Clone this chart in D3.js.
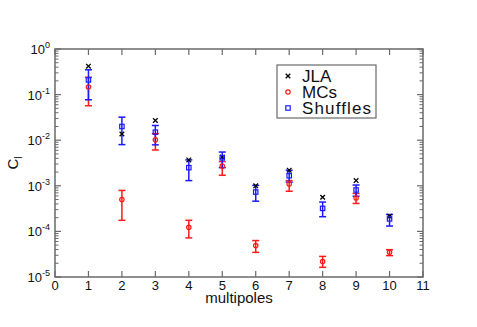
<!DOCTYPE html>
<html lang="en">
<head>
<meta charset="utf-8">
<title>C_l vs multipoles</title>
<script src="https://cdn.jsdelivr.net/npm/d3@7"></script>
<style>
  body { margin: 0; background: white; }
  svg { background-color: white; font-family: "Liberation Sans", Arial, sans-serif; }
</style>
</head>
<body>
<div id="chart"></div>
<script>
// multipole index
var multipoles = [1, 2, 3, 4, 5, 6, 7, 8, 9, 10];

// JLA
var jla = [0.42, 0.0137, 0.027, 0.0037, 0.0043, 0.0010, 0.0022, 0.00056, 0.0013, 0.000214];

// MCs: value, lower, upper
var mcs    = [0.147, 0.0005, 0.0102, 0.000123, 0.0027, 0.000049, 0.0011, 0.0000219, 0.00054, 0.0000347];
var mcsLo  = [0.057, 0.000175, 0.0061, 0.000072, 0.0017, 0.0000347, 0.00076, 0.0000163, 0.00041, 0.0000294];
var mcsHi  = [0.24, 0.00079, 0.0139, 0.000175, 0.0034, 0.000063, 0.0013, 0.0000283, 0.00068, 0.0000397];

// Shuffles: value, lower, upper
var shuf   = [0.21, 0.020, 0.015, 0.0025, 0.0041, 0.00073, 0.00166, 0.00032, 0.00081, 0.000188];
var shufLo = [0.077, 0.0080, 0.0079, 0.0013, 0.0025, 0.00046, 0.0012, 0.00021, 0.00059, 0.000131];
var shufHi = [0.35, 0.032, 0.021, 0.0037, 0.0055, 0.00102, 0.0022, 0.00044, 0.00104, 0.000235];

var xTicks = [0, 1, 2, 3, 4, 5, 6, 7, 8, 9, 10, 11];
var yExps = [0, -1, -2, -3, -4, -5];

var W = 477, H = 327;
var pLeft = 55, pRight = 423, pTop = 49, pBottom = 277;

var svg = d3.select("#chart").append("svg")
  .attr("width", W).attr("height", H);

var x = d3.scaleLinear().domain([0, 11]).range([pLeft, pRight]);
var y = d3.scaleLog().domain([1e-5, 1]).range([pBottom, pTop]);

var axisColor = "#6a6a6a";

// frame
svg.append("rect")
  .attr("x", pLeft).attr("y", pTop)
  .attr("width", pRight - pLeft).attr("height", pBottom - pTop)
  .attr("fill", "none").attr("stroke", axisColor).attr("stroke-width", 1.5);

// x ticks (bottom and top, inward)
xTicks.forEach(function(t) {
  svg.append("line").attr("x1", x(t)).attr("x2", x(t))
    .attr("y1", pBottom).attr("y2", pBottom - 6)
    .attr("stroke", axisColor).attr("stroke-width", 1.2);
  svg.append("line").attr("x1", x(t)).attr("x2", x(t))
    .attr("y1", pTop).attr("y2", pTop + 6)
    .attr("stroke", axisColor).attr("stroke-width", 1.2);
  svg.append("text").attr("x", x(t)).attr("y", pBottom + 13)
    .attr("text-anchor", "middle").attr("font-size", 13).attr("fill", "#111")
    .text(t);
});

// y ticks with minors (left and right, inward)
yExps.forEach(function(e) {
  var v = Math.pow(10, e);
  [[pLeft, 1], [pRight, -1]].forEach(function(s) {
    svg.append("line").attr("x1", s[0]).attr("x2", s[0] + s[1] * 6)
      .attr("y1", y(v)).attr("y2", y(v))
      .attr("stroke", axisColor).attr("stroke-width", 1.2);
    if (e > -5) {
      for (var k = 2; k <= 9; k++) {
        svg.append("line").attr("x1", s[0]).attr("x2", s[0] + s[1] * 3.5)
          .attr("y1", y(k * v / 10)).attr("y2", y(k * v / 10))
          .attr("stroke", axisColor).attr("stroke-width", 1);
      }
    }
  });
  var lab = svg.append("text").attr("x", pLeft - 5).attr("y", y(v) + 5)
    .attr("text-anchor", "end").attr("font-size", 13).attr("fill", "#111");
  lab.append("tspan").text("10");
  lab.append("tspan").attr("dy", -6).attr("font-size", 9).text(e);
});

// axis labels
svg.append("text").attr("x", (pLeft + pRight) / 2).attr("y", 303)
  .attr("text-anchor", "middle").attr("font-size", 15).attr("fill", "#111")
  .text("multipoles");
var yl = svg.append("text")
  .attr("transform", "translate(18," + ((pTop + pBottom) / 2) + ") rotate(-90)")
  .attr("text-anchor", "middle").attr("font-size", 15).attr("fill", "#111");
yl.append("tspan").text("C");
yl.append("tspan").attr("dy", 4).attr("font-size", 10).text("l");

// error bars
function errBars(vals, lo, hi, color) {
  var g = svg.append("g").attr("stroke", color).attr("stroke-width", 1.5);
  multipoles.forEach(function(m, i) {
    var cx = x(m);
    g.append("line").attr("x1", cx).attr("x2", cx).attr("y1", y(lo[i])).attr("y2", y(hi[i]));
    g.append("line").attr("x1", cx - 3.5).attr("x2", cx + 3.5).attr("y1", y(lo[i])).attr("y2", y(lo[i]));
    g.append("line").attr("x1", cx - 3.5).attr("x2", cx + 3.5).attr("y1", y(hi[i])).attr("y2", y(hi[i]));
  });
}

var red = "#ff1a1a", blue = "#1a1aff";
errBars(mcs, mcsLo, mcsHi, red);
errBars(shuf, shufLo, shufHi, blue);

function crossAt(g, cx, cy) {
  g.append("path").attr("d", "M" + (cx - 2.3) + "," + (cy - 2.3) + "L" + (cx + 2.3) + "," + (cy + 2.3) +
    "M" + (cx - 2.3) + "," + (cy + 2.3) + "L" + (cx + 2.3) + "," + (cy - 2.3))
    .attr("stroke", "#000").attr("stroke-width", 1.3).attr("fill", "none");
}
function circleAt(g, cx, cy) {
  g.append("circle").attr("cx", cx).attr("cy", cy).attr("r", 2.2)
    .attr("fill", "none").attr("stroke", red).attr("stroke-width", 1.2);
}
function squareAt(g, cx, cy) {
  g.append("rect").attr("x", cx - 2.2).attr("y", cy - 2.2).attr("width", 4.4).attr("height", 4.4)
    .attr("fill", "none").attr("stroke", blue).attr("stroke-width", 1.2);
}

var pts = svg.append("g");
multipoles.forEach(function(m, i) {
  crossAt(pts, x(m), y(jla[i]));
  circleAt(pts, x(m), y(mcs[i]));
  squareAt(pts, x(m), y(shuf[i]));
});

// legend
var legend = svg.append("g");
legend.append("rect").attr("x", 277).attr("y", 65).attr("width", 99).attr("height", 53)
  .attr("fill", "white").attr("stroke", axisColor).attr("stroke-width", 1.2);
var names = ["JLA", "MCs", "Shuffles"];
var marks = [crossAt, circleAt, squareAt];
names.forEach(function(n, i) {
  var ly = 76 + i * 16;
  marks[i](legend, 288, ly);
  legend.append("text").attr("x", 302).attr("y", ly + 6)
    .attr("font-size", 17).attr("fill", "#111")
    .attr("textLength", n === "Shuffles" ? 69 : null)
    .text(n);
});
</script>
</body>
</html>
